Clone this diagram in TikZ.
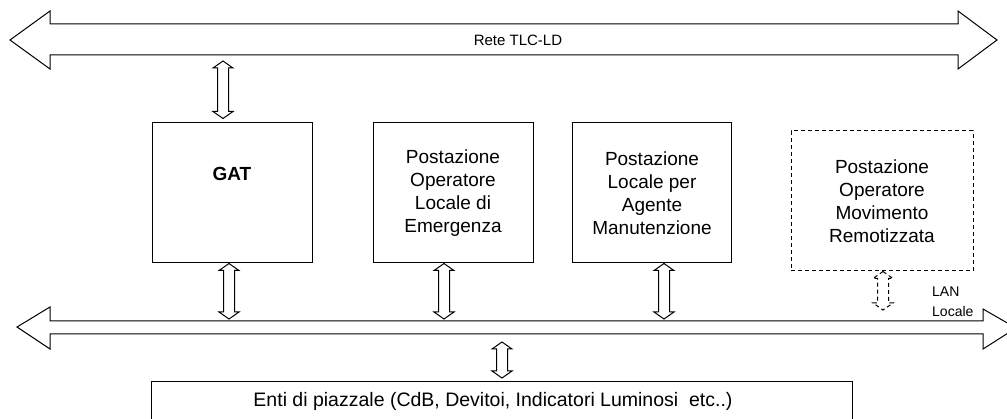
\documentclass[tikz,border=0pt]{standalone}
\usepackage{fontspec}
\setmainfont{Liberation Sans}
\usetikzlibrary{calc}
\tikzset{
  blk/.style={draw=black, line width=1pt, fill=white, line join=miter},
  box/.style={draw=black, line width=1pt, fill=white, align=center, inner sep=0pt,
              font=\fontsize{19}{23}\selectfont},
  dbox/.style={box, dash pattern=on 4pt off 3pt},
  dsh/.style={dash pattern=on 4pt off 3pt},
  lbl/.style={inner sep=0pt, align=center}
}
% vertical block double arrow: #2 upper point, #3 lower point, #4 x shift, #5 gap top, #6 gap bottom
\newcommand\vdbl[6][]{%
  \draw[blk,#1] let \p1=#2, \p2=#3,
      \p3=({\x1+(#4pt)},{\y1-(#5pt)}),
      \p4=({\x1+(#4pt)},{\y2+(#6pt)}),
      \n1={\y3-\y4-14} in
    (\p3) -- ++(10,-7) -- ++(-4.5,0) -- ++(0,-\n1) -- ++(4.5,0) -- ++(-10,-7)
    -- ++(-10,7) -- ++(4.5,0) -- ++(0,\n1) -- ++(-4.5,0) -- cycle;}
\begin{document}
\begin{tikzpicture}[x=1pt,y=1pt]
\useasboundingbox (0,0) rectangle (1007,-419);
\clip (0,0) rectangle (1007,-419);
% top bus
\draw[blk] (10,-40) -- (50,-11) -- (50,-24) -- (958,-24) -- (958,-11) -- (997,-40)
  -- (958,-69) -- (958,-55) -- (50,-55) -- (50,-69) -- cycle;
\coordinate (tlcS) at (500,-55);
\node[lbl, font=\fontsize{15}{18}\selectfont] (tlc) at (518,-40) {Rete TLC-LD};
% bottom bus
\draw[blk] (17,-327) -- (50,-307) -- (50,-321) -- (983,-321) -- (983,-309) -- (1016,-328)
  -- (983,-349) -- (983,-334) -- (50,-334) -- (50,-349) -- cycle;
\coordinate (lanN) at (500,-321);
\coordinate (lanS) at (500,-334);
\node[lbl, align=left, anchor=west, font=\fontsize{14}{20}\selectfont] (lan) at (932,-302) {LAN\\Locale};
% boxes
\node[box, minimum width=160, minimum height=140] (gat) at (232,-193) {};
\node[lbl, font=\fontsize{19}{23}\selectfont\bfseries] (gatl) at (232,-174) {GAT};
\node[box, minimum width=160, minimum height=140] (poe) at (453,-193)
  {Postazione\\Operatore\\Locale di\\Emergenza};
\node[box, minimum width=159, minimum height=140] (plm) at (652,-193)
  {Postazione\\Locale per\\Agente\\Manutenzione};
\node[dbox, minimum width=182, minimum height=140] (pom) at (882,-201)
  {Postazione\\Operatore\\Movimento\\Remotizzata};
\node[box, minimum width=701, minimum height=60, anchor=north west] (enti) at (151,-381) {};
\node[lbl, font=\fontsize{19.5}{22}\selectfont] (entil) at (493,-401)
  {Enti di piazzale (CdB, Devitoi, Indicatori Luminosi\ \ etc..)};
% connectors
\vdbl{(gat.north |- tlcS)}{(gat.north)}{-9}{6}{4}
\vdbl{(gat.south)}{(gat.south |- lanN)}{-3}{0}{2}
\vdbl{(poe.south)}{(poe.south |- lanN)}{-9}{0}{2}
\vdbl{(plm.south)}{(plm.south |- lanN)}{12}{0}{2}
\vdbl[dsh]{(pom.south)}{(pom.south |- lanN)}{1}{0}{11}
\vdbl{(enti.north |- lanS)}{(enti.north)}{0}{8}{3}
\end{tikzpicture}
\end{document}
